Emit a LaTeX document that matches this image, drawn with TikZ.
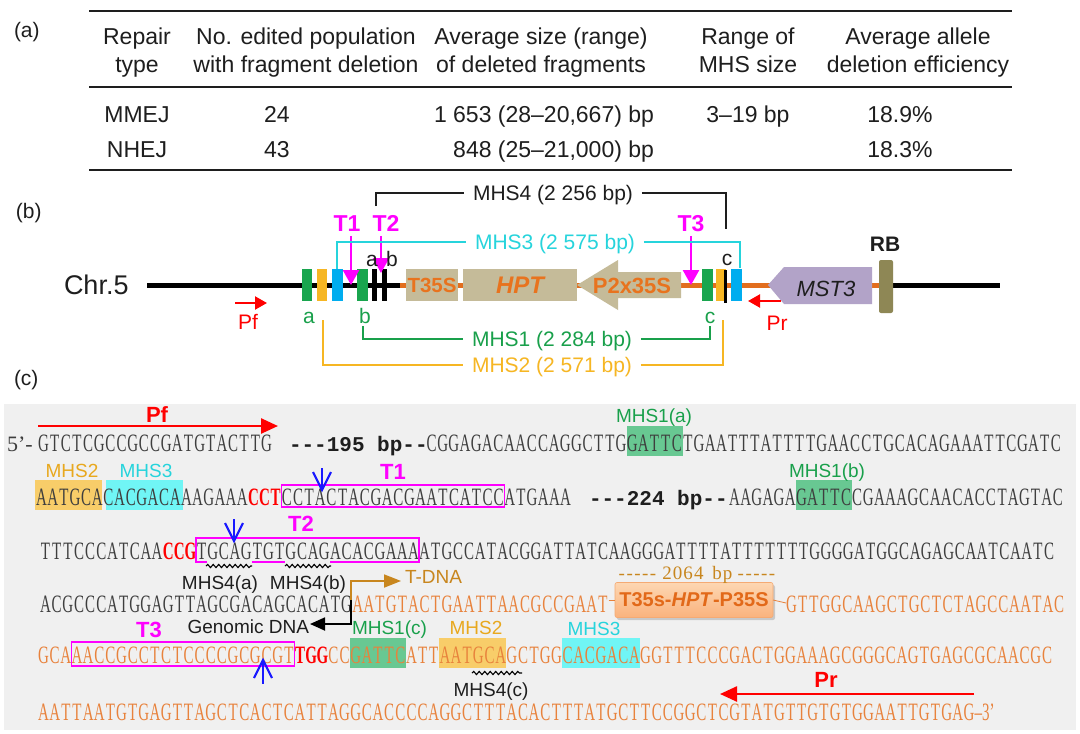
\documentclass[tikz,border=0pt]{standalone}
\usepackage{fontspec}
\setmainfont{Liberation Sans}
\newfontfamily\seqfont[FakeStretch=0.6]{Liberation Serif}
\newfontfamily\plainserif{Liberation Serif}
\newfontfamily\monob{Liberation Mono}
\usetikzlibrary{arrows.meta,decorations.pathmorphing,shadows}
\definecolor{txt}{RGB}{30,30,30}
\definecolor{seqgray}{RGB}{62,62,62}
\definecolor{seqor}{RGB}{232,130,60}
\definecolor{mag}{RGB}{255,0,255}
\definecolor{mblue}{RGB}{25,25,255}
\definecolor{gone}{RGB}{25,160,75}
\definecolor{gblk}{RGB}{25,165,78}
\definecolor{ytwo}{RGB}{246,182,35}
\definecolor{ytwot}{RGB}{232,168,30}
\definecolor{cthree}{RGB}{38,212,220}
\definecolor{hlg}{RGB}{104,200,146}
\definecolor{hly}{RGB}{248,205,105}
\definecolor{hlc}{RGB}{112,245,245}
\definecolor{tanc}{RGB}{197,187,153}
\definecolor{orT}{RGB}{232,115,30}
\definecolor{orline}{RGB}{226,110,30}
\definecolor{mstc}{RGB}{178,163,200}
\definecolor{rbc}{RGB}{142,135,85}
\definecolor{bgc}{RGB}{240,240,240}
\definecolor{tdna}{RGB}{200,134,30}
\definecolor{boxtop}{RGB}{253,215,178}
\definecolor{boxbot}{RGB}{250,178,125}
\definecolor{boxedge}{RGB}{245,170,115}
\definecolor{boxtxt}{RGB}{226,105,25}
\newlength\cw
\setlength\cw{11.15pt}
\makeatletter
\def\sq#1{\sq@a#1\relax}
\def\sq@a#1{\ifx\relax#1\else\makebox[\cw]{#1}\expandafter\sq@a\fi}
\makeatother
\tikzset{
 every node/.style={inner sep=0pt, outer sep=0pt},
 tabtxt/.style={anchor=base, font=\fontsize{23}{23}\selectfont, text=txt},
 plab/.style={anchor=base west, font=\fontsize{21}{21}\selectfont, text=txt},
 mhsl/.style={anchor=center, font=\fontsize{21}{21}\selectfont, text height=15pt, text depth=0pt, inner xsep=9pt},
 tl/.style={anchor=base, font=\bfseries\fontsize{23}{23}\selectfont, text=mag},
 slab/.style={anchor=base, font=\fontsize{21}{21}\selectfont},
 blk/.style={minimum width=10.5pt, minimum height=32pt},
 tarrow/.style={mag, line width=2.5pt, -{Triangle[length=15pt,width=16pt]}},
 redarr/.style={red, line width=2.2pt, -{Triangle[length=12pt,width=13pt]}},
 brk/.style={line width=1.8pt},
 seq/.style={anchor=base west, font=\seqfont\fontsize{25}{25}\selectfont, text=seqgray},
 seqo/.style={seq, text=seqor},
 bpt/.style={anchor=base west, font=\monob\bfseries\fontsize{21}{21}\selectfont, text=txt},
 clab/.style={anchor=base, font=\fontsize{19}{19}\selectfont},
 ctl/.style={anchor=base, font=\bfseries\fontsize{22}{22}\selectfont},
 gbox/.style={draw=mag, line width=1.5pt},
 barrow/.style={mblue, line width=2.2pt},
 wavy/.style={black, line width=1.1pt, decorate, decoration={snake, amplitude=1.6pt, segment length=5.5pt}},
 tbox/.style={minimum width=158pt, minimum height=35pt, rounded corners=2pt, top color=boxtop, bottom color=boxbot, draw=boxedge, line width=0.6pt, drop shadow={shadow xshift=2pt, shadow yshift=-2.5pt, opacity=0.35}, font=\bfseries\fontsize{20}{20}\selectfont, text=boxtxt}
}
\begin{document}
\begin{tikzpicture}[x=1pt,y=-1pt]
\useasboundingbox (0,0) rectangle (1080,734);
\fill[white] (0,0) rectangle (1080,734);

% ---------------- (a) table ----------------
\node[plab] (la) at (14,37) {(a)};
\draw[line width=2pt, txt] (89,11) -- (1012,11);
\draw[line width=1.5pt, txt] (89,87) -- (1012,87);
\draw[line width=2pt, txt] (89,170) -- (1012,170);
\node[tabtxt] (h1a) at (137,44) {Repair};
\node[tabtxt] (h1b) at (137,72) {type};
\node[tabtxt] (h2a) at (306,44) {No. edited population};
\node[tabtxt] (h2b) at (306,72) {with fragment deletion};
\node[tabtxt] (h3a) at (541,44) {Average size (range)};
\node[tabtxt] (h3b) at (541,72) {of deleted fragments};
\node[tabtxt] (h4a) at (748,44) {Range of};
\node[tabtxt] (h4b) at (748,72) {MHS size};
\node[tabtxt] (h5a) at (918,44) {Average allele};
\node[tabtxt] (h5b) at (918,72) {deletion efficiency};
\node[tabtxt] (r1a) at (137,122) {MMEJ};
\node[tabtxt] (r1b) at (277,122) {24};
\node[tabtxt, anchor=base east] (r1c) at (654,122) {1 653 (28–20,667) bp};
\node[tabtxt] (r1d) at (748,122) {3–19 bp};
\node[tabtxt] (r1e) at (900,122) {18.9\%};
\node[tabtxt] (r2a) at (137,157) {NHEJ};
\node[tabtxt] (r2b) at (277,157) {43};
\node[tabtxt, anchor=base east] (r2c) at (654,157) {848 (25–21,000) bp};
\node[tabtxt] (r2e) at (900,157) {18.3\%};

% ---------------- (b) map ----------------
\node[plab] (lb) at (16,218) {(b)};
\node[anchor=base west, font=\fontsize{27}{27}\selectfont, text=txt] (chr) at (64,294) {Chr.5};
\coordinate (L0) at (147,285);
\coordinate (L1) at (400,285);
\coordinate (L2) at (880,285);
\coordinate (L3) at (1000,285);
\draw[line width=5pt, black] (L0) -- (L1);
\draw[line width=5pt, orline] (L1) -- (L2);
\draw[line width=5pt, black] (L2) -- (L3);
% blocks left
\node[blk, fill=gblk] (ga) at (307,285) {};
\node[blk, fill=ytwo] (oa) at (322,285) {};
\node[blk, fill=cyan] (ca) at (337.5,285) {};
\node[blk, fill=gblk] (gb) at (362.5,285) {};
\node[blk, fill=black, minimum width=5pt] (bar1) at (374.5,285) {};
\node[blk, fill=black, minimum width=5pt] (bar2) at (384.5,285) {};
% cassette
\node[fill=tanc, minimum width=52pt, minimum height=32pt] (t35) at (432,285) {};
\node[anchor=base, font=\bfseries\fontsize{20.5}{20.5}\selectfont, text=orT] (t35t) at (432,292) {T35S};
\node[fill=tanc, minimum width=114pt, minimum height=32pt] (hpt) at (520,285) {};
\node[anchor=base, font=\bfseries\itshape\fontsize{24}{24}\selectfont, text=orT] (hptt) at (520,293) {HPT};
\fill[tanc] (577,285) -- (618,260) -- (618,272) -- (681,272) -- (681,298) -- (618,298) -- (618,310) -- cycle;
\node[anchor=base, font=\bfseries\fontsize{22}{22}\selectfont, text=orT] (p2t) at (632,293) {P2x35S};
% blocks right
\node[blk, fill=gblk] (gc) at (707.5,285) {};
\node[blk, fill=ytwo] (oc) at (721,285) {};
\node[fill=black, minimum width=2.4pt, minimum height=33pt] (barc) at (725.3,286) {};
\node[blk, fill=cyan] (cc) at (736.5,285) {};
% MST3 and RB
\fill[mstc] (768,285) -- (784,267) -- (872,267) -- (872,304) -- (784,304) -- cycle;
\node[anchor=base, font=\itshape\fontsize{22}{22}\selectfont, text=txt] (mst) at (826,296) {MST3};
\node[fill=rbc, rounded corners=2pt, minimum width=14pt, minimum height=53pt] (rb) at (886,286.5) {};
\node[anchor=base, font=\bfseries\fontsize{21}{21}\selectfont, text=txt] (rbt) at (885,251) {RB};
% primers
\coordinate (pf0) at (235,303); \coordinate (pf1) at (267,303);
\draw[redarr] (pf0) -- (pf1);
\node[slab, text=red] (pft) at (248,329) {Pf};
\coordinate (pr0) at (781,301); \coordinate (pr1) at (748,301);
\draw[redarr] (pr0) -- (pr1);
\node[slab, text=red] (prt) at (777,330) {Pr};
% targets
\node[tl] (bt1) at (347,231) {T1};
\node[tl] (bt2) at (386,231) {T2};
\node[tl] (bt3) at (691,231) {T3};
\coordinate (t1e) at (351,285); \coordinate (t2e) at (381,273); \coordinate (t3e) at (691,285);
\draw[tarrow] (351,236) -- (t1e);
\draw[tarrow] (381,236) -- (t2e);
\draw[tarrow] (691,236) -- (t3e);
% small letters
\node[slab, text=txt] (ka) at (372,266) {a};
\node[slab, text=txt] (kb) at (392,266) {b};
\node[slab, text=txt] (kc) at (727,265) {c};
\node[slab, text=gone] (ma) at (309,323) {a};
\node[slab, text=gone] (mb) at (365,323) {b};
\node[slab, text=gone] (mc) at (710,323) {c};
% brackets
\node[mhsl, text=txt] (m4) at (553,193) {MHS4 (2 256 bp)};
\draw[brk, txt] (376,206) |- (m4.west);
\draw[brk, txt] (m4.east) -| (726,229);
\node[mhsl, text=cthree] (m3) at (555,242) {MHS3 (2 575 bp)};
\draw[brk, cthree] (337,269) |- (m3.west);
\draw[brk, cthree] (m3.east) -| (740,268);
\node[mhsl, text=gone] (m1) at (552,339) {MHS1 (2 284 bp)};
\draw[brk, gone] (363,326) |- (m1.west);
\draw[brk, gone] (m1.east) -| (710,326);
\node[mhsl, text=ytwo] (m2) at (552,365) {MHS2 (2 571 bp)};
\draw[brk, ytwo] (323,320) |- (m2.west);
\draw[brk, ytwo] (m2.east) -| (723,320);

% ---------------- (c) sequence ----------------
\node[plab] (lc) at (14,385) {(c)};
\fill[bgc] (4,404) rectangle (1076,730);
% highlights
\fill[hlg] (626.7,426) rectangle (682.5,456);
\fill[hly] (35,480) rectangle (102,510);
\fill[hlc] (106,480) rectangle (183,510);
\fill[hlg] (795.9,480) rectangle (851.7,510);
\fill[hlg] (350.2,638) rectangle (406,668);
\fill[hly] (439.4,638) rectangle (506.3,668);
\fill[hlc] (562,638) rectangle (640.1,668);
% line 1
\node[anchor=base west, font=\plainserif\fontsize{22}{22}\selectfont, text=seqgray] (s1p) at (7,451) {5’-};
\node[seq] (s1a) at (38,451) {\sq{GTCTCGCCGCCGATGTACTTG}};
\node[bpt] (bp1) at (289,451) {-{}-{}-195 bp-{}-};
\node[seq] (s1b) at (426,451) {\sq{CGGAGACAACCAGGCTTGGATTCTGAATTTATTTTGAACCTGCACAGAAATTCGATC}};
\coordinate (cpf0) at (38,426); \coordinate (cpf1) at (278,426);
\draw[red, line width=2.5pt, -{Triangle[length=17pt,width=15pt]}] (cpf0) -- (cpf1);
\node[ctl, text=red] (cpf) at (157,422) {Pf};
\node[clab, text=gone] (lm1a) at (654,422) {MHS1(a)};
% line 2
\node[seq] (s2a) at (36,505) {\sq{AATGCACACGACAAAGAAA}\textcolor{red}{\bfseries\sq{CCT}}\sq{CCTACTACGACGAATCATCCATGAAA}};
\node[bpt] (bp2) at (589,505) {-{}-{}-224 bp-{}-};
\node[seq] (s2b) at (729,505) {\sq{AAGAGAGATTCCGAAAGCAACACCTAGTAC}};
\draw[gbox] (281.3,485) rectangle (504.3,507);
\node[clab, text=ytwot] (lm2a) at (72,477) {MHS2};
\node[clab, text=cthree] (lm3a) at (146,477) {MHS3};
\node[ctl, text=mag] (ct1) at (393,479) {T1};
\node[clab, text=gone] (lm1b) at (827,477) {MHS1(b)};
\draw[barrow] (322,468) -- (322,490);
\draw[barrow] (313,472) -- (322,490) -- (331,472);
% line 3
\node[seq] (s3) at (40,559) {\sq{TTTCCCATCAA}\textcolor{red}{\bfseries\sq{CCG}}\sq{TGCAGTGTGCAGACACGAAAATGCCATACGGATTATCAAGGGATTTTATTTTTTTGGGGATGGCAGAGCAATCAATC}};
\draw[gbox] (207,562) -| (196.1,538) -| (419.1,562) -- (329.9,562);
\draw[gbox] (251.9,562) -- (285.3,562);
\draw[wavy] (206,566) -- (252,566);
\draw[wavy] (285,566) -- (331,566);
\node[ctl, text=mag] (ct2) at (301,531) {T2};
\draw[barrow] (234,519) -- (234,541);
\draw[barrow] (225,523) -- (234,541) -- (243,523);
\node[clab, text=txt] (lm4a) at (220,589) {MHS4(a)};
\node[clab, text=txt] (lm4b) at (308,589) {MHS4(b)};
% line 4
\node[seq] (s4a) at (40,612) {\sq{ACGCCCATGGAGTTAGCGACAGCACATG}};
\node[seqo] (s4b) at (352.2,612) {\sq{AATGTACTGAATTAACGCCGAAT}};
\node[tbox] (tb) at (694,600) {T35s-\textit{HPT}-P35S};
\draw[seqor, line width=0.8pt] (s4b.east |- tb.west) -- (tb.west);
\coordinate (s4cw) at (786,603);
\draw[seqor, line width=0.8pt] (tb.east) -- (s4cw);
\node[seqo] (s4c) at (786,612) {\sq{GTTGGCAAGCTGCTCTAGCCAATAC}};
\node[anchor=base, font=\plainserif\fontsize{19}{19}\selectfont, text=tdna] (bp64) at (697,579) {\setlength\cw{7.8pt}\sq{-----}\hspace{5pt}\setlength\cw{10.5pt}\sq{2064}\hspace{8pt}\sq{bp}\hspace{4pt}\setlength\cw{7.8pt}\sq{-----}};
\coordinate (jn) at (351,600);
\coordinate (tdtip) at (401,581);
\coordinate (gdtip) at (310,624);
\draw[tdna, line width=1.8pt, -{Triangle[length=17pt,width=13pt]}] (jn) |- (tdtip);
\draw[black, line width=1.8pt, -{Triangle[length=15pt,width=13pt]}] (jn) |- (gdtip);
\node[clab, anchor=base west, text=tdna] (ltd) at (405,583) {T-DNA};
\node[clab, anchor=base east, text=txt] (lgd) at (309,633) {Genomic DNA};
% line 5
\node[seqo] (s5) at (38,663) {\sq{GCAAACCGCCTCTCCCCGCGCGT}\textcolor{red}{\bfseries\sq{TGG}}\sq{CCGATTCATTAATGCAGCTGGCACGACAGGTTTCCCGACTGGAAAGCGGGCAGTGAGCGCAACGC}};
\draw[gbox] (71.45,642) rectangle (294.45,666);
\node[ctl, text=mag] (ct3) at (149,637) {T3};
\node[clab, anchor=base west, text=gone] (lm1c) at (352,634) {MHS1(c)};
\node[clab, text=ytwot] (lm2c) at (476,634) {MHS2};
\node[clab, text=cthree] (lm3c) at (594,635) {MHS3};
\draw[barrow] (263,660) -- (263,684);
\draw[barrow] (254,678) -- (263,660) -- (272,678);
\draw[wavy] (472,673) -- (522,673);
\node[clab, text=txt] (lm4c) at (491,696) {MHS4(c)};
% line 6
\node[seqo] (s6) at (38,720) {\sq{AATTAATGTGAGTTAGCTCACTCATTAGGCACCCCAGGCTTTACACTTTATGCTTCCGGCTCGTATGTTGTGTGGAATTGTGAG}–3’};
\coordinate (cpr0) at (974,694); \coordinate (cpr1) at (720,694);
\draw[red, line width=2.5pt, -{Triangle[length=17pt,width=15pt]}] (cpr0) -- (cpr1);
\node[ctl, text=red] (cpr) at (826,687) {Pr};
\end{tikzpicture}
\end{document}
